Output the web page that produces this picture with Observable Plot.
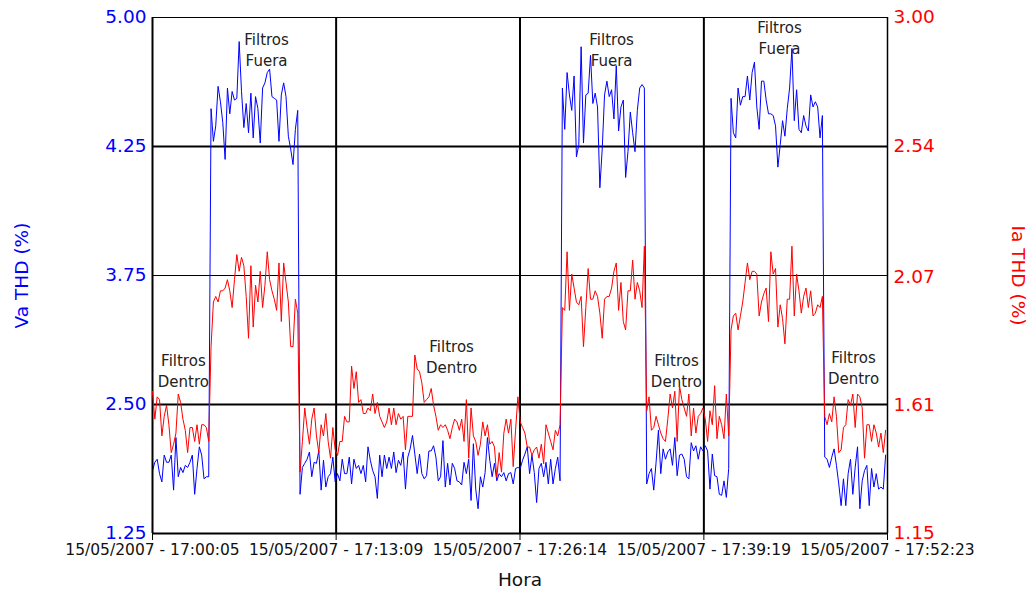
<!DOCTYPE html>
<html><head><meta charset="utf-8">
<script src="https://cdn.jsdelivr.net/npm/d3@7"></script>
<script src="https://cdn.jsdelivr.net/npm/@observablehq/plot@0.6"></script>
<style>
html,body{margin:0;padding:0;background:#fff}
#chart{position:relative;width:1032px;height:592px}
#chart svg{position:absolute;left:0;top:0}
</style></head>
<body><div id="chart"></div>
<script>
// ---- data ----
const sampleDay = "2007-05-15";
const startClock = "17:00:05";
const endClock = "17:52:23";
const sampleSeconds = 10;

// Va THD (%) – left axis
const vaThd = [
1.86,1.94,1.97,1.83,1.75,2.01,1.94,1.94,2.01,1.67,2.18,1.80,1.89,1.84,1.91,1.89,1.94,2.01,1.63,1.88,2.09,2.01,1.78,1.80,1.80,
4.47,4.28,4.37,4.60,4.51,4.39,4.20,4.59,4.44,4.57,4.52,4.53,4.86,4.57,4.36,4.50,4.33,4.56,4.30,4.54,4.47,4.27,4.59,4.62,4.68,4.70,4.54,4.53,4.52,4.28,4.55,4.62,4.54,4.31,4.24,4.18,4.35,4.46,
1.63,1.89,1.93,1.97,2.04,1.80,1.94,1.93,2.05,1.67,1.96,1.70,1.80,1.83,1.99,1.75,1.83,1.76,1.97,1.83,
1.83,1.99,1.73,1.97,1.88,1.91,1.83,1.91,1.75,2.09,1.96,1.86,1.80,1.59,2.01,1.80,2.01,1.88,1.99,1.88,
2.04,1.84,1.96,1.91,2.04,1.68,1.99,2.07,2.20,2.02,1.83,2.02,1.83,1.78,1.81,2.05,
2.05,2.10,1.99,1.76,1.80,2.15,1.70,1.93,1.72,1.93,1.88,1.76,1.75,1.72,1.94,1.83,1.97,1.57,2.12,1.68,
1.49,1.80,1.70,1.84,2.18,1.96,1.80,1.93,1.76,1.83,1.80,1.84,1.76,1.83,1.84,1.73,1.88,1.89,1.88,1.96,
2.02,2.09,1.83,2.01,1.84,1.55,1.88,1.93,1.80,1.94,1.73,1.97,1.73,1.88,1.99,1.76,
4.59,4.35,4.68,4.55,4.46,4.66,4.21,4.26,4.83,4.27,4.55,4.56,4.78,4.50,4.56,4.48,4.09,4.24,4.55,4.63,
4.54,4.58,4.41,4.72,4.34,4.48,4.52,4.13,4.23,4.45,4.33,4.23,4.46,4.59,4.61,4.59,
1.73,1.83,1.88,1.67,1.94,2.25,1.83,2.07,1.97,2.04,2.07,1.91,2.18,1.81,2.01,2.02,1.97,1.80,1.78,2.13,
2.05,2.10,1.97,2.09,2.05,2.10,2.05,1.68,2.02,1.81,1.80,1.63,1.62,1.76,1.60,1.88,
4.53,4.33,4.30,4.59,4.49,4.54,4.54,4.66,4.52,4.68,4.74,4.48,4.35,4.63,4.63,4.52,4.44,4.44,4.43,4.37,
4.17,4.26,4.40,4.31,4.47,4.59,4.82,4.40,4.58,4.35,4.33,4.43,4.37,4.34,4.55,4.48,4.51,4.48,4.30,4.43,
1.99,1.97,1.89,1.99,2.07,1.91,1.73,1.52,1.78,1.52,1.83,1.97,1.63,1.89,2.09,1.49,1.76,1.86,1.91,1.52,
1.88,1.70,1.83,1.68,1.70,1.68,2.01
];

// Ia THD (%) – right axis
const iaThd = [
1.66,1.56,1.64,1.63,1.50,1.57,1.61,1.54,1.44,1.47,1.51,1.65,1.62,1.56,1.52,1.44,1.53,1.53,1.48,1.54,1.47,1.54,1.54,1.53,1.48,
1.82,1.98,2.00,1.98,2.02,2.02,2.03,2.06,2.02,1.96,2.06,2.15,2.09,2.14,2.11,2.00,1.85,2.11,1.89,2.04,1.98,2.09,1.96,2.04,2.16,2.06,2.02,1.99,1.95,2.12,1.91,2.12,2.05,1.98,1.82,1.82,1.99,1.94,
1.37,1.48,1.60,1.53,1.47,1.56,1.60,1.50,1.44,1.54,1.50,1.58,1.48,1.42,1.53,1.45,1.43,1.48,1.48,1.57,
1.55,1.55,1.75,1.67,1.73,1.62,1.63,1.58,1.58,1.60,1.59,1.65,1.58,1.62,1.57,1.55,1.53,1.55,1.60,1.54,
1.60,1.54,1.58,1.56,1.57,1.45,1.57,1.57,1.57,1.79,1.74,1.73,1.69,1.62,1.63,1.64,
1.67,1.61,1.57,1.52,1.54,1.53,1.54,1.52,1.49,1.53,1.56,1.55,1.52,1.56,1.48,1.63,1.42,1.60,1.50,1.48,
1.43,1.47,1.55,1.50,1.54,1.47,1.48,1.46,1.35,1.44,1.37,1.51,1.56,1.51,1.56,1.39,1.52,1.64,1.55,1.53,
1.51,1.46,1.46,1.43,1.45,1.46,1.42,1.47,1.40,1.54,1.51,1.48,1.45,1.52,1.50,1.54,
1.96,1.95,2.16,1.95,2.08,2.03,1.98,1.97,2.00,1.82,1.96,2.10,1.99,1.99,2.02,2.00,1.94,1.85,1.99,2.00,
2.00,2.03,2.09,2.12,1.95,2.05,1.91,1.88,2.02,2.02,2.13,1.99,2.05,2.02,1.96,2.18,
1.59,1.64,1.52,1.53,1.57,1.54,1.51,1.49,1.48,1.56,1.65,1.60,1.66,1.48,1.68,1.63,1.60,1.57,1.65,1.50,
1.60,1.51,1.57,1.58,1.60,1.56,1.48,1.59,1.54,1.68,1.49,1.57,1.54,1.49,1.65,1.50,
1.88,1.93,1.94,1.88,1.93,1.98,2.05,2.12,2.06,2.09,2.09,2.08,1.93,1.98,2.01,2.03,1.91,2.16,2.08,2.10,
1.89,1.97,1.92,1.83,1.99,1.99,2.18,1.93,2.08,2.02,1.94,2.00,2.03,1.96,2.02,1.93,1.94,1.97,1.96,2.00,
1.57,1.54,1.58,1.55,1.64,1.57,1.44,1.45,1.53,1.54,1.63,1.61,1.65,1.53,1.65,1.64,1.60,1.42,1.54,1.54,
1.48,1.54,1.51,1.46,1.51,1.44,1.52
];

// axis ticks and labels
const xTickDate = "15/05/2007";
const xTickClocks = ["17:00:05","17:13:09","17:26:14","17:39:19","17:52:23"];
const vaTickValues = [1.25, 2.50, 3.75, 4.25, 5.00];
const iaTickValues = [1.15, 1.61, 2.07, 2.54, 3.00];

// annotations
const noteClocks = ["17:08:12","17:02:17","17:21:22","17:32:45","17:37:22","17:44:42","17:49:58"];
const noteVa     = [4.82, 2.84, 2.97, 4.82, 2.84, 4.89, 2.87];
const noteTexts  = ["Filtros\nFuera","Filtros\nDentro","Filtros\nDentro","Filtros\nFuera","Filtros\nDentro","Filtros\nFuera","Filtros\nDentro"];

// ---- build ----
const at = (clock) => new Date(`${sampleDay}T${clock}`);
const t0 = at(startClock), t1 = at(endClock);
const vaRows = vaThd.map((v, i) => ({t: new Date(+t0 + i * sampleSeconds * 1000), v}));
const iaRows = iaThd.map((v, i) => ({t: new Date(+t0 + i * sampleSeconds * 1000), v}));
const xTicks = xTickClocks.map(at);
const xLabel = new Map(xTickClocks.map(c => [+at(c), `${xTickDate} - ${c}`]));
const notes = noteClocks.map((c, i) => ({t: at(c), v: noteVa[i], text: noteTexts[i]}));

const W = 1032, H = 592, mL = 152, mR = 145, mT = 17, mB = 59;
const FONT = "DejaVu Sans";
const innerH = H - mT - mB;
const vaRange = vaTickValues.map((d, i) => H - mB - i * innerH / (vaTickValues.length - 1));

const common = {width: W, height: H, marginLeft: mL, marginRight: mR, marginTop: mT, marginBottom: mB,
  style: {fontFamily: FONT, background: "transparent", overflow: "visible"}};

const base = Plot.plot({
  ...common,
  x: {type: "time", domain: [t0, t1]},
  y: {type: "linear", domain: vaTickValues, range: vaRange},
  marks: [
    Plot.text(notes, {x: "t", y: "v", text: "text", fontSize: 15, lineHeight: 1.4, fill: "#222", lineAnchor: "middle"}),
    Plot.ruleY([4.25, 2.50], {stroke: "black", strokeWidth: 2}),
    Plot.ruleY([3.75], {stroke: "black", strokeWidth: 1}),
    Plot.ruleX(xTicks.slice(1, -1), {stroke: "black", strokeWidth: 2}),
    Plot.line(vaRows, {x: "t", y: "v", stroke: "#0000ff", strokeWidth: 1}),
    Plot.ruleY([5.00], {stroke: "black", strokeWidth: 1}),
    Plot.ruleX([t0], {stroke: "black", strokeWidth: 2}),
    Plot.ruleX([t1], {stroke: "black", strokeWidth: 1.5}),
    Plot.ruleY([1.25], {stroke: "black", strokeWidth: 2}),
    Plot.axisY({ticks: vaTickValues, tickFormat: d => d.toFixed(2), tickSize: 0, tickPadding: 6,
      color: "#0000ff", fontSize: 18.5, label: null}),
    Plot.axisX({ticks: xTicks, tickFormat: d => xLabel.get(+d), tickSize: 7, tickPadding: 3,
      stroke: "black", fill: "#111", fontSize: 15.5, label: null}),
    Plot.text(["Va THD (%)"], {frameAnchor: "left", dx: -130, rotate: -90, textAnchor: "middle",
      fill: "#0000ff", fontSize: 18.5}),
    Plot.text(["Hora"], {frameAnchor: "bottom", dy: 52, textAnchor: "middle", fill: "#111", fontSize: 18.5})
  ]
});

const overlay = Plot.plot({
  ...common,
  x: {type: "time", domain: [t0, t1], axis: null},
  y: {type: "linear", domain: [iaTickValues[0], iaTickValues[iaTickValues.length - 1]]},
  marks: [
    Plot.line(iaRows, {x: "t", y: "v", stroke: "#ff0000", strokeWidth: 1}),
    Plot.axisY({anchor: "right", ticks: iaTickValues, tickFormat: d => d.toFixed(2), tickSize: 0, tickPadding: 6,
      color: "#ff0000", fontSize: 18.5, label: null}),
    Plot.text(["Ia THD (%)"], {frameAnchor: "right", dx: 130, rotate: 90, textAnchor: "middle",
      fill: "#ff0000", fontSize: 18.5})
  ]
});

const host = document.getElementById("chart");
host.appendChild(base);
host.appendChild(overlay);
</script>
</body></html>
